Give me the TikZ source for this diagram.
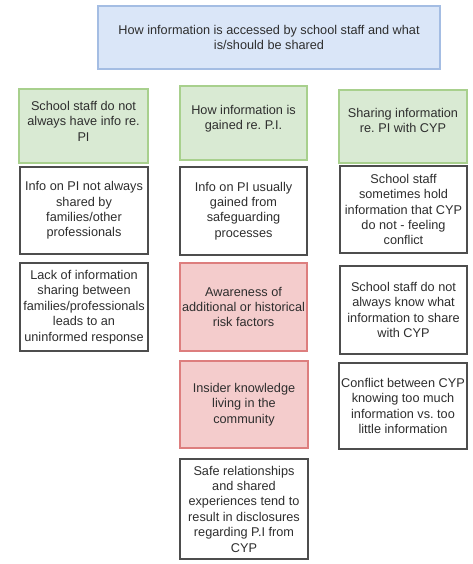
\documentclass[tikz,border=0pt]{standalone}
\usepackage{fontspec}
\setmainfont{Liberation Sans}
\frenchspacing
\definecolor{txtc}{HTML}{2E2E2E}
\definecolor{bluefill}{HTML}{DAE6F8}
\definecolor{blueline}{HTML}{A4BDE3}
\definecolor{greenfill}{HTML}{D9EAD3}
\definecolor{greenline}{HTML}{A8D08D}
\definecolor{pinkfill}{HTML}{F4CCCC}
\definecolor{pinkline}{HTML}{DD7E7E}
\definecolor{greyline}{HTML}{4D4D4D}
\tikzset{
  every node/.style={font=\fontsize{12.7}{15.4}\selectfont, text=txtc, align=center, inner sep=0pt},
  plainbox/.style={draw=greyline, line width=1.6pt, fill=white},
  headbox/.style={draw=blueline, line width=1.4pt, fill=bluefill},
  topicbox/.style={draw=greenline, line width=1.4pt, fill=greenfill},
  riskbox/.style={draw=pinkline, line width=1.4pt, fill=pinkfill},
}
\begin{document}
\begin{tikzpicture}[x=1pt,y=-1pt]
\useasboundingbox (0,0) rectangle (473,564);

% heading
\node[headbox, minimum width=342pt, minimum height=63pt] (head) at (269,37.5)
  {How information is accessed by school staff and what\\is/should be shared};

% column headings (text sits a little above centre)
\node[topicbox, minimum width=129pt, minimum height=74pt] (g1) at (83.5,126) {};
\node[yshift=5pt] (g1t) at (g1) {School staff do not\\always have info re.\\PI};
\node[topicbox, minimum width=127pt, minimum height=74pt] (g2) at (243.5,123) {};
\node[yshift=4pt] (g2t) at (g2) {How information is\\gained re. P.I.};
\node[topicbox, minimum width=128pt, minimum height=73pt] (g3) at (403,126.5) {};
\node[yshift=6pt] (g3t) at (g3) {Sharing information\\re. PI with CYP};

% first column
\node[plainbox, minimum width=128pt, minimum height=87pt] (a1) at (84,210.5)
  {Info on PI not always\\shared by\\families/other\\professionals};
\node[plainbox, minimum width=128pt, minimum height=88pt] (b1) at (84,307)
  {Lack of information\\sharing between\\families/professionals\\leads to an\\uninformed response};

% second column
\node[plainbox, minimum width=127pt, minimum height=88pt] (a2) at (243.5,211)
  {Info on PI usually\\gained from\\safeguarding\\processes};
\node[riskbox, minimum width=127pt, minimum height=88pt] (b2) at (243.5,307)
  {Awareness of\\additional or historical\\risk factors};
\node[riskbox, minimum width=128pt, minimum height=87pt] (c2) at (244,404.5)
  {Insider knowledge\\living in the\\community};
\node[plainbox, minimum width=128pt, minimum height=100pt] (d2) at (244,509)
  {Safe relationships\\and shared\\experiences tend to\\result in disclosures\\regarding P.I from\\CYP};

% third column
\node[plainbox, minimum width=127pt, minimum height=87pt] (a3) at (403.5,209.5)
  {School staff\\sometimes hold\\information that CYP\\do not - feeling\\conflict};
\node[plainbox, minimum width=127pt, minimum height=88pt] (b3) at (403.5,310)
  {School staff do not\\always know what\\information to share\\with CYP};
\node[plainbox, minimum width=128pt, minimum height=86pt] (c3) at (403,406)
  {Conflict between CYP\\knowing too much\\information vs. too\\little information};
\end{tikzpicture}
\end{document}
